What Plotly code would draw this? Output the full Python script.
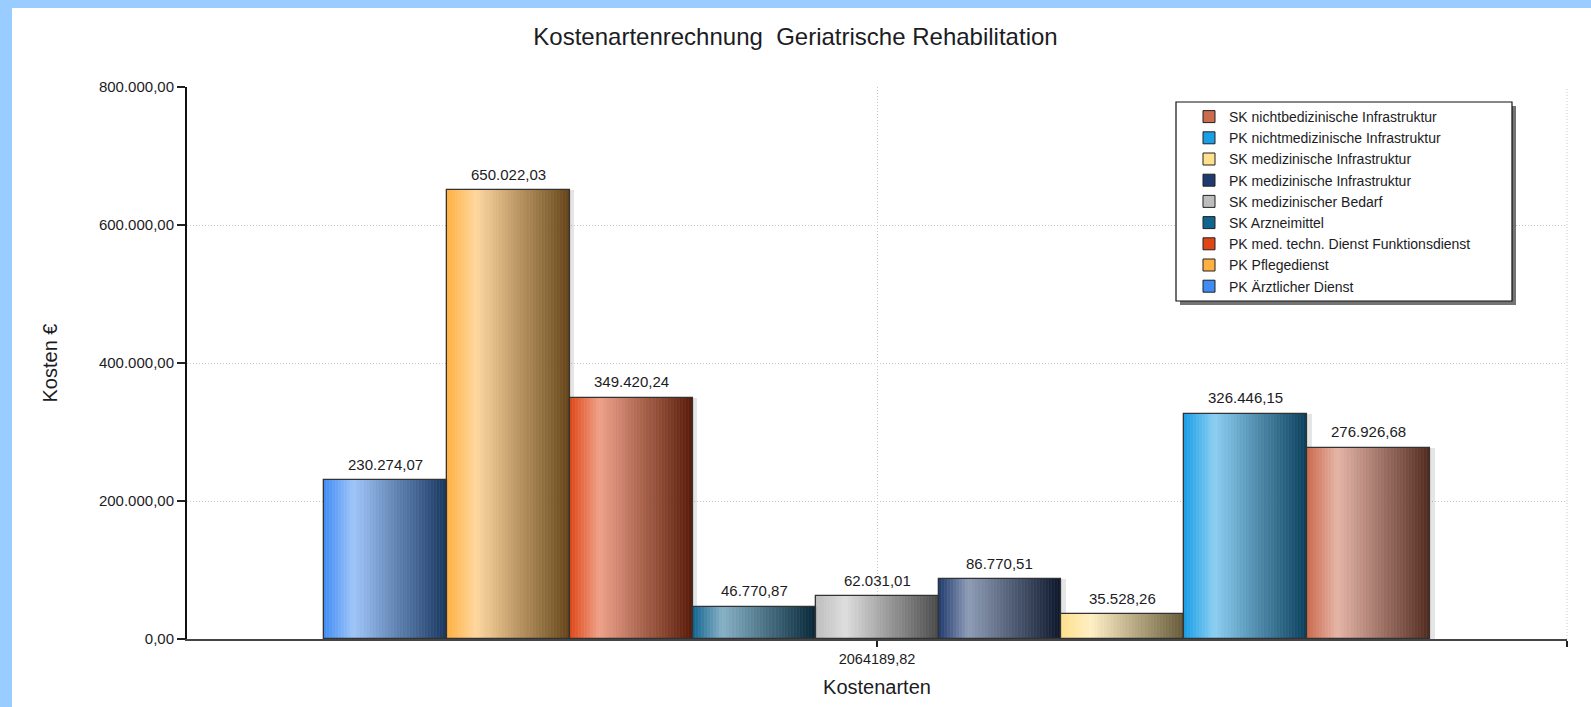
import plotly.graph_objects as go

# Kostenarten (Balken von links nach rechts)
kostenarten = [
    "PK Ärztlicher Dienst",
    "PK Pflegedienst",
    "PK med. techn. Dienst Funktionsdienst",
    "SK Arzneimittel",
    "SK medizinischer Bedarf",
    "PK medizinische Infrastruktur",
    "SK medizinische Infrastruktur",
    "PK nichtmedizinische Infrastruktur",
    "SK nichtbedizinische Infrastruktur",
]
kosten = [
    230274.07,
    650022.03,
    349420.24,
    46770.87,
    62031.01,
    86770.51,
    35528.26,
    326446.15,
    276926.68,
]
farben = [
    "#3F8CF4", "#FFB040", "#E04515", "#10648F", "#BDBDBD",
    "#1F3A6E", "#FFE08C", "#199FE6", "#CC6B4E",
]
y_ticks = [0, 200000, 400000, 600000, 800000]

FONT = "Arial, Liberation Sans, sans-serif"
TEXT = "#1c1c24"
GRID = "#c8c8c8"
N_STRIPS = 40
X_HALF = 5.61


def de(v, grouping=True):
    s = f"{v:,.2f}" if grouping else f"{v:.2f}"
    return s.replace(",", "_").replace(".", ",").replace("_", ".")


def rgb(h):
    h = h.lstrip("#")
    return [int(h[i:i + 2], 16) for i in (0, 2, 4)]


def mix(a, b, f):
    return [a[i] + (b[i] - a[i]) * f for i in range(3)]


def shade(h, t):
    base = rgb(h)
    light = mix(base, [255, 255, 255], 0.5)
    dark = [c * 0.4 for c in base]
    if t < 0.25:
        c = mix(base, light, t / 0.25)
    else:
        c = mix(light, dark, (t - 0.25) / 0.75)
    return "rgb(%d,%d,%d)" % tuple(round(v) for v in c)


centers = [i - (len(kosten) - 1) / 2 for i in range(len(kosten))]
total = sum(kosten)

fig = go.Figure()

# Schatten
fig.add_trace(go.Bar(
    x=[c + 0.035 for c in centers], y=[v + 4300 for v in kosten], base=-4300,
    width=1, marker=dict(color="rgba(0,0,0,0.10)", line=dict(width=0)),
    showlegend=False, hoverinfo="skip", cliponaxis=False,
))

# Farbverlauf als schmale Streifen
for k in range(N_STRIPS):
    t = (k + 0.5) / N_STRIPS
    cols = [shade(f, t) for f in farben]
    fig.add_trace(go.Bar(
        x=[c - 0.5 + t for c in centers], y=kosten, width=1 / N_STRIPS,
        marker=dict(color=cols, line=dict(color=cols, width=0.6)),
        showlegend=False, hoverinfo="skip",
    ))

# Umrandung
fig.add_trace(go.Bar(
    x=centers, y=kosten, width=1,
    marker=dict(color="rgba(0,0,0,0)", line=dict(color="#333333", width=1.3)),
    showlegend=False, customdata=kostenarten,
    hovertemplate="%{customdata}: %{y:,.2f}<extra></extra>",
))

# Legende
for name, f in zip(kostenarten, farben):
    fig.add_trace(go.Bar(
        x=[None], y=[None], name=name,
        marker=dict(color=f, line=dict(color="#222222", width=1)),
    ))

for c, v in zip(centers, kosten):
    fig.add_annotation(
        x=c, y=v, text=de(v), showarrow=False, yanchor="middle", yshift=16,
        font=dict(family=FONT, size=15, color=TEXT),
    )

fig.update_layout(
    width=1591, height=707,
    paper_bgcolor="#99CCFF", plot_bgcolor="white",
    margin=dict(l=187, r=24, t=87, b=68),
    barmode="overlay", bargap=0,
    separators=",.",
    font=dict(family=FONT, color=TEXT),
    title=dict(
        text="Kostenartenrechnung  Geriatrische Rehabilitation",
        x=0.5, xref="container", xanchor="center",
        y=1 - 37 / 707, yref="container", yanchor="middle",
        font=dict(family=FONT, size=24, color=TEXT),
    ),
    xaxis=dict(
        range=[-X_HALF, X_HALF], tickvals=[0, X_HALF], ticktext=[de(total, False), ""],
        showgrid=True, gridcolor=GRID, griddash="1px,2px", gridwidth=1,
        showline=True, linecolor="#444444", linewidth=2,
        ticks="outside", ticklen=6, tickcolor="#222222", tickwidth=2,
        ticklabelstandoff=0,
        tickfont=dict(family=FONT, size=14.5, color=TEXT),
        title=dict(text="Kostenarten", standoff=14,
                   font=dict(family=FONT, size=20, color=TEXT)),
        zeroline=False, fixedrange=True,
    ),
    yaxis=dict(
        range=[0, 800000], tickvals=y_ticks, tickformat=",.2f",
        showgrid=True, gridcolor=GRID, griddash="1px,2px", gridwidth=1,
        showline=True, linecolor="#111111", linewidth=2,
        ticks="outside", ticklen=8, tickcolor="#222222", tickwidth=2,
        tickfont=dict(family=FONT, size=15, color=TEXT),
        title=dict(text="Kosten €", standoff=36,
                   font=dict(family=FONT, size=20, color=TEXT)),
        zeroline=False, fixedrange=True,
    ),
    legend=dict(
        traceorder="reversed",
        x=(1189 - 187) / 1380, xanchor="left",
        y=(639 - 101) / 552, yanchor="top",
        bgcolor="rgba(0,0,0,0)", borderwidth=0,
        font=dict(family=FONT, size=14, color=TEXT),
    ),
)

# weisser Zeichenbereich auf blauem Rand
px = lambda x: (x - 187) / 1380
py = lambda y: (639 - y) / 552
fig.add_shape(type="rect", xref="paper", yref="paper", layer="below",
              x0=px(12), x1=px(1591), y0=py(707), y1=py(8),
              fillcolor="white", line=dict(width=0))
# rechte Gitterlinie
fig.add_shape(type="line", xref="paper", yref="paper", layer="below",
              x0=1, x1=1, y0=0, y1=1,
              line=dict(color=GRID, width=1, dash="1px,2px"))
# Legendenkasten mit Schatten
fig.add_shape(type="rect", xref="paper", yref="paper", layer="above",
              x0=px(1180), x1=px(1516), y0=py(305), y1=py(106),
              fillcolor="rgba(70,70,70,0.75)", line=dict(width=0))
fig.add_shape(type="rect", xref="paper", yref="paper", layer="above",
              x0=px(1176), x1=px(1512), y0=py(301), y1=py(102),
              fillcolor="white", line=dict(color="#111111", width=1.2))

fig.write_html("out.html", config={"displayModeBar": False},
               post_script="document.body.style.margin='0';")
